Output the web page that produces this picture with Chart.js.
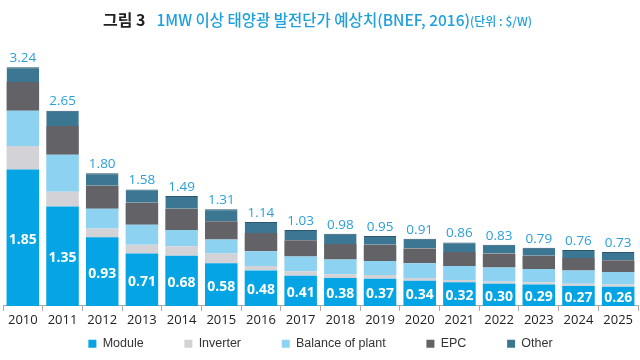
<!DOCTYPE html>
<html>
<head>
<meta charset="utf-8">
<script src="https://cdn.jsdelivr.net/npm/chart.js@4.4.1/dist/chart.umd.min.js"></script>
<style>
  html, body { margin: 0; padding: 0; background: #fff; }
  #wrap { position: relative; width: 640px; height: 360px; }
  #title {
    position: absolute; top: 9px; left: 103px; line-height: 20px;
    font-family: "Noto Sans CJK KR", sans-serif; white-space: nowrap; z-index: 2;
  }
  #title .fig { color: #222; font-size: 16px; font-weight: 700; margin-right: 11px; }
  #title .main { color: #1ea0dc; font-size: 15.5px; font-weight: 500; }
  #title .unit { color: #1ea0dc; font-size: 12px; font-weight: 500; }
  canvas { position: absolute; top: 0; left: 0; }
</style>
</head>
<body>
<div id="wrap">
  <div id="title"><span class="fig">그림 3</span><span class="main">1MW 이상 태양광 발전단가 예상치(BNEF, 2016)</span><span class="unit">(단위 : $/W)</span></div>
  <canvas id="chart" width="640" height="360"></canvas>
</div>
<script>
const years = ['2010','2011','2012','2013','2014','2015','2016','2017','2018','2019','2020','2021','2022','2023','2024','2025'];
const moduleCost   = [1.85, 1.35, 0.93, 0.71, 0.68, 0.58, 0.48, 0.41, 0.38, 0.37, 0.34, 0.32, 0.30, 0.29, 0.27, 0.26];
const inverterCost = [0.32, 0.20, 0.12, 0.12, 0.13, 0.13, 0.06, 0.06, 0.05, 0.05, 0.04, 0.03, 0.03, 0.03, 0.03, 0.03];
const bopCost      = [0.48, 0.50, 0.27, 0.27, 0.22, 0.19, 0.20, 0.20, 0.20, 0.19, 0.20, 0.19, 0.19, 0.18, 0.18, 0.17];
const epcCost      = [0.39, 0.39, 0.31, 0.30, 0.29, 0.25, 0.25, 0.22, 0.21, 0.22, 0.20, 0.19, 0.19, 0.18, 0.17, 0.16];
const otherCost    = [0.20, 0.21, 0.17, 0.18, 0.17, 0.16, 0.15, 0.14, 0.14, 0.12, 0.13, 0.13, 0.12, 0.11, 0.11, 0.11];
const totals       = [3.24, 2.65, 1.80, 1.58, 1.49, 1.31, 1.14, 1.03, 0.98, 0.95, 0.91, 0.86, 0.83, 0.79, 0.76, 0.73];

// labels: totals above the bar, module value inside the module segment
const valueLabels = {
  id: 'valueLabels',
  afterDatasetsDraw(chart) {
    const ctx = chart.ctx;
    const modMeta = chart.getDatasetMeta(0);
    const topMeta = chart.getDatasetMeta(4);
    ctx.save();
    ctx.textAlign = 'center';
    ctx.textBaseline = 'middle';
    modMeta.data.forEach((bar, i) => {
      ctx.fillStyle = '#ffffff';
      ctx.font = 'bold 14px "Open Sans", sans-serif';
      ctx.fillText(moduleCost[i].toFixed(2), bar.x, (bar.y + bar.base) / 2 + 2);
    });
    topMeta.data.forEach((bar, i) => {
      ctx.fillStyle = '#2c9fda';
      ctx.font = '13.5px "Open Sans", sans-serif';
      ctx.fillText(totals[i].toFixed(2), bar.x, bar.y - 9);
    });
    ctx.restore();
  }
};

new Chart(document.getElementById('chart'), {
  type: 'bar',
  data: {
    labels: years,
    datasets: [
      { label: 'Module', data: moduleCost, backgroundColor: '#05a4e4' },
      { label: 'Inverter', data: inverterCost, backgroundColor: '#d3d3d7' },
      { label: 'Balance of plant', data: bopCost, backgroundColor: '#8dd3f1' },
      { label: 'EPC', data: epcCost, backgroundColor: '#626267' },
      { label: 'Other', data: otherCost, backgroundColor: '#3b7692', borderColor: '#2b566b',
        borderWidth: { top: 1, left: 0, right: 0, bottom: 0 }, borderSkipped: false }
    ]
  },
  options: {
    responsive: false,
    animation: false,
    layout: { padding: { top: 48, left: 3, right: 2, bottom: 0 } },
    datasets: { bar: { barPercentage: 0.82, categoryPercentage: 1.0 } },
    scales: {
      x: {
        stacked: true,
        grid: { display: true, drawOnChartArea: false, offset: true, color: '#aaaaaa', tickLength: 5 },
        border: { color: '#aaaaaa' },
        ticks: { color: '#222', font: { family: '"Open Sans", sans-serif', size: 13 }, padding: 2 }
      },
      y: { stacked: true, display: false, min: 0, max: 3.5 }
    },
    plugins: {
      legend: {
        position: 'bottom',
        labels: {
          boxWidth: 8, boxHeight: 8, padding: 7, color: '#333',
          font: { family: '"Liberation Sans", sans-serif', size: 12.5 },
          generateLabels(chart) {
            const items = Chart.defaults.plugins.legend.labels.generateLabels(chart);
            items.forEach((it, i) => {
              it.lineWidth = 0;
              if (i < items.length - 1) it.text = it.text + '\u2003\u2003\u2002\u2009';
            });
            return items;
          }
        }
      },
      tooltip: { enabled: false }
    }
  },
  plugins: [valueLabels]
});
</script>
</body>
</html>
